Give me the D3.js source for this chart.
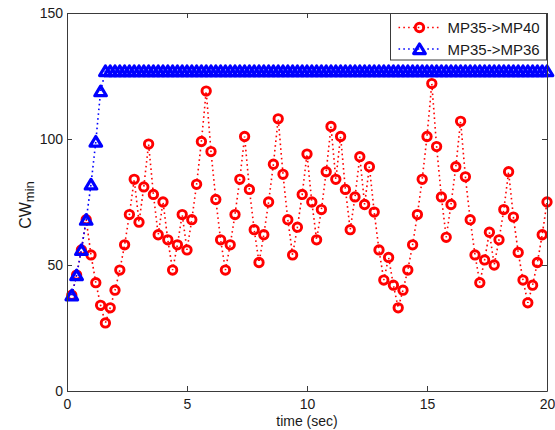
<!DOCTYPE html>
<html>
<head>
<meta charset="utf-8">
<script src="https://cdn.jsdelivr.net/npm/d3@7"></script>
<style>
  html, body { margin: 0; padding: 0; background: #fff; }
  svg { display: block; font-family: Arial, "Liberation Sans", Helvetica, sans-serif; }
</style>
</head>
<body>
<svg id="chart" width="555" height="430"></svg>
<script>
// Sample times (s): one sample every 0.2 s
const times = d3.range(1, 101).map(i => +(i * 0.2).toFixed(1));

// Minimum contention window per sample, path MP35 -> MP40
const cwMP40 = [
  38, 46, 56, 68, 54, 43, 34, 27, 33, 40,
  48, 58, 70, 84, 67, 81, 98, 78, 62, 75,
  60, 48, 58, 70, 56, 68, 82, 99, 119, 95,
  76, 60, 48, 58, 70, 84, 101, 80, 64, 51,
  62, 75, 90, 108, 86, 68, 54, 65, 78, 94,
  75, 60, 72, 87, 105, 84, 101, 80, 64, 77,
  93, 74, 89, 71, 56, 44, 53, 42, 33, 40,
  48, 58, 70, 84, 101, 122, 97, 77, 61, 74,
  89, 107, 85, 68, 54, 43, 52, 63, 50, 60,
  72, 87, 69, 55, 44, 35, 42, 51, 62, 75
];

// Minimum contention window per sample, path MP35 -> MP36
const cwMP36 = [
  38, 46, 56, 68, 82, 99, 119, 127, 127, 127,
  127, 127, 127, 127, 127, 127, 127, 127, 127, 127,
  127, 127, 127, 127, 127, 127, 127, 127, 127, 127,
  127, 127, 127, 127, 127, 127, 127, 127, 127, 127,
  127, 127, 127, 127, 127, 127, 127, 127, 127, 127,
  127, 127, 127, 127, 127, 127, 127, 127, 127, 127,
  127, 127, 127, 127, 127, 127, 127, 127, 127, 127,
  127, 127, 127, 127, 127, 127, 127, 127, 127, 127,
  127, 127, 127, 127, 127, 127, 127, 127, 127, 127,
  127, 127, 127, 127, 127, 127, 127, 127, 127, 127
];

const seriesNames = ["MP35->MP40", "MP35->MP36"];
const xTicks = [0, 5, 10, 15, 20];
const yTicks = [0, 50, 100, 150];

const svg = d3.select("#chart");
const margin = { left: 67, top: 13, right: 8, bottom: 39 };
const W = 555 - margin.left - margin.right;
const H = 430 - margin.top - margin.bottom;

const x = d3.scaleLinear().domain([0, 20]).range([0, W]);
const y = d3.scaleLinear().domain([0, 150]).range([H, 0]);

const g = svg.append("g").attr("transform", `translate(${margin.left},${margin.top})`);

const RED = "#ff0000", BLUE = "#0000ff", AXIS = "#3a3a3a", TXT = "#1a1a1a";

g.append("rect").attr("width", W).attr("height", H).attr("fill", "#fff");

// marker shapes
function circleMarker(sel, color) {
  sel.append("circle").attr("r", 4.2).attr("fill", "none")
    .attr("stroke", color).attr("stroke-width", 2.9);
}
const triPath = "M0,-5 L5.8,4.6 L-5.8,4.6 Z";
function triMarker(sel, color) {
  sel.append("path").attr("d", triPath).attr("fill", "none")
    .attr("stroke", color).attr("stroke-width", 3.2).attr("stroke-linejoin", "round");
}

const line = d3.line().x(d => x(d[0])).y(d => y(d[1]));

function drawSeries(values, color, marker) {
  const pts = times.map((t, i) => [t, values[i]]);
  g.append("path").datum(pts).attr("d", line).attr("fill", "none")
    .attr("stroke", color).attr("stroke-width", 1.6)
    .attr("stroke-dasharray", "1.6 3.2");
  g.append("g").selectAll("g").data(pts).join("g")
    .attr("transform", d => `translate(${x(d[0])},${y(d[1])})`)
    .each(function () { marker(d3.select(this), color); });
}

drawSeries(cwMP40, RED, circleMarker);
drawSeries(cwMP36, BLUE, triMarker);

// axes: labelled bottom/left, plain top/right, all ticks pointing inward
function styleAxis(a) {
  a.select(".domain").attr("stroke", AXIS).attr("stroke-width", 1);
  a.selectAll(".tick line").attr("stroke", AXIS).attr("stroke-width", 1);
  a.selectAll(".tick text").attr("fill", TXT).style("font-size", "14px")
    .style("font-family", "Arial, 'Liberation Sans', sans-serif");
}
const ax = g.append("g").attr("transform", `translate(0,${H})`)
  .call(d3.axisBottom(x).tickValues(xTicks).tickSizeInner(-5).tickSizeOuter(0).tickPadding(8).tickFormat(d3.format("d")));
styleAxis(ax);
const ay = g.append("g")
  .call(d3.axisLeft(y).tickValues(yTicks).tickSizeInner(-5).tickSizeOuter(0).tickPadding(4).tickFormat(d3.format("d")));
styleAxis(ay);
const at = g.append("g")
  .call(d3.axisTop(x).tickValues(xTicks).tickSizeInner(-5).tickSizeOuter(0).tickFormat(""));
styleAxis(at);
const ar = g.append("g").attr("transform", `translate(${W},0)`)
  .call(d3.axisRight(y).tickValues(yTicks).tickSizeInner(-5).tickSizeOuter(0).tickFormat(""));
styleAxis(ar);

// axis titles
svg.append("text").attr("x", margin.left + W / 2).attr("y", 425.5)
  .attr("text-anchor", "middle").attr("fill", TXT).style("font-size", "14px")
  .text("time (sec)");

const yl = svg.append("text").attr("transform", "translate(30.5,205) rotate(-90)")
  .attr("text-anchor", "middle").attr("fill", TXT).style("font-size", "16px");
yl.append("tspan").text("CW");
yl.append("tspan").attr("dy", 3).style("font-size", "13px").text("min");

// legend
const leg = svg.append("g").attr("transform", "translate(390.5,13.5)");
leg.append("rect").attr("width", 156).attr("height", 46.5)
  .attr("fill", "#fff").attr("stroke", AXIS).attr("stroke-width", 1);
const legItems = [
  { name: seriesNames[0], color: RED, marker: circleMarker, yy: 14 },
  { name: seriesNames[1], color: BLUE, marker: triMarker, yy: 35.5 }
];
legItems.forEach(it => {
  const row = leg.append("g").attr("transform", `translate(0,${it.yy})`);
  row.append("line").attr("x1", 8).attr("x2", 50).attr("y1", 0).attr("y2", 0)
    .attr("stroke", it.color).attr("stroke-width", 1.6).attr("stroke-dasharray", "1.6 3.2");
  const m = row.append("g").attr("transform", "translate(29,0)");
  it.marker(m, it.color);
  row.append("text").attr("x", 57).attr("y", 5.5).attr("fill", TXT)
    .style("font-size", "15px").text(it.name);
});
</script>
</body>
</html>
